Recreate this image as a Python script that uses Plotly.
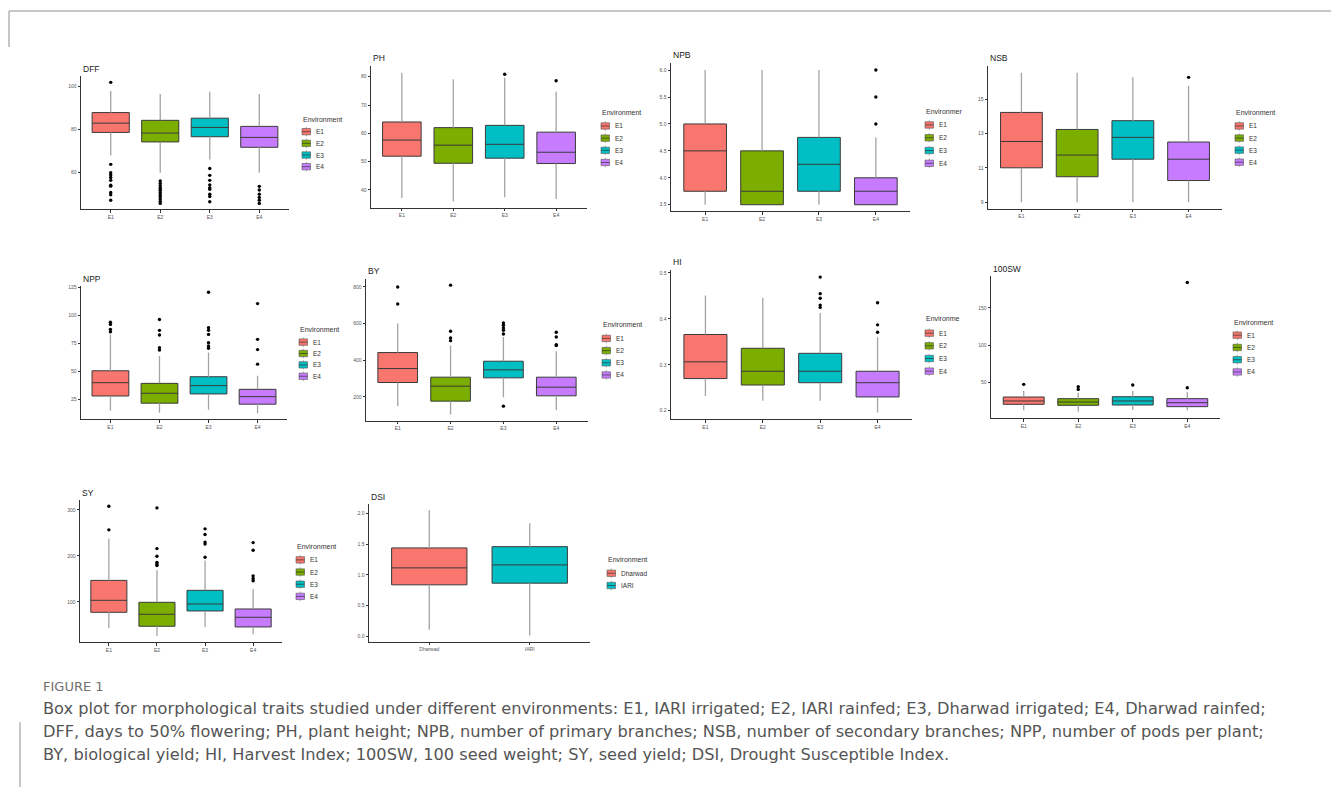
import plotly.graph_objects as go

W, H = 1331, 787

ENV = ["E1", "E2", "E3", "E4"]
SITES = ["Dharwad", "IARI"]
ENV_COLORS = ["#F8766D", "#7CAE00", "#00BFC4", "#C77CFF"]
SITE_COLORS = ["#F8766D", "#00BFC4"]

# ---------------- data ----------------
DFF_q1 = [78.5, 74.1, 76.5, 71.6]
DFF_median = [82.8, 78.2, 80.8, 76.2]
DFF_q3 = [87.7, 84.1, 85.1, 81.3]
DFF_low = [67.8, 59.8, 66.0, 59.8]
DFF_high = [97.7, 96.3, 97.4, 96.3]
DFF_outliers = [
    [101.7, 63.7, 59.8, 58.8, 57.6, 56.3, 54.0, 53.6, 50.7, 49.6, 47.1],
    [56.0, 54.8, 53.7, 52.6, 51.7, 50.7, 49.6, 48.7, 47.6, 46.5, 45.6],
    [61.8, 58.6, 56.3, 54.2, 52.9, 52.2, 49.9, 48.8, 46.4],
    [53.5, 51.8, 49.9, 48.4, 47.1, 45.6],
]
DFF_ticks = [60, 80, 100]

PH_q1 = [51.9, 49.4, 51.2, 49.3]
PH_median = [57.6, 55.8, 56.1, 53.3]
PH_q3 = [64.0, 62.0, 62.8, 60.4]
PH_low = [37.1, 35.9, 37.4, 36.8]
PH_high = [81.4, 79.1, 79.6, 74.7]
PH_outliers = [[], [], [80.9], [78.6]]
PH_ticks = [40, 50, 60, 70, 80]

NPB_q1 = [3.75, 3.5, 3.75, 3.5]
NPB_median = [4.5, 3.75, 4.25, 3.75]
NPB_q3 = [5.0, 4.5, 4.75, 4.0]
NPB_low = [3.5, 3.5, 3.5, 3.5]
NPB_high = [6.0, 6.0, 6.0, 4.75]
NPB_outliers = [[], [], [], [5.0, 5.5, 6.0]]
NPB_ticks = [3.5, 4.0, 4.5, 5.0, 5.5, 6.0]

NSB_q1 = [11.0, 10.48, 11.5, 10.26]
NSB_median = [12.53, 11.74, 12.77, 11.5]
NSB_q3 = [14.22, 13.23, 13.74, 12.5]
NSB_low = [9.0, 9.0, 9.0, 9.0]
NSB_high = [16.53, 16.53, 16.26, 15.77]
NSB_outliers = [[], [], [], [16.26]]
NSB_ticks = [9, 11, 13, 15]

NPP_q1 = [28.2, 21.8, 30.0, 20.9]
NPP_median = [40.0, 30.6, 37.4, 27.6]
NPP_q3 = [50.6, 39.4, 45.3, 34.1]
NPP_low = [15.3, 13.2, 15.9, 12.9]
NPP_high = [82.9, 63.8, 66.8, 46.2]
NPP_outliers = [
    [93.8, 91.8, 87.4, 85.3],
    [96.2, 86.5, 82.4, 71.2, 69.1],
    [120.3, 88.8, 86.5, 82.9, 75.6, 72.6, 70.6],
    [110.3, 78.5, 69.4, 56.5],
]
NPP_ticks = [25, 50, 75, 100, 125]

BY_q1 = [278.2, 176.4, 303.6, 205.5]
BY_median = [354.5, 258.2, 347.3, 252.7]
BY_q3 = [441.8, 307.3, 394.5, 307.3]
BY_low = [149, 103.6, 198, 127]
BY_high = [600, 480, 527, 449]
BY_outliers = [
    [800, 707],
    [810, 558, 522, 507],
    [603.6, 590.9, 576, 563.6, 543.6, 149],
    [553, 527, 485, 480],
]
BY_ticks = [200, 400, 600, 800]

HI_q1 = [0.270, 0.256, 0.261, 0.230]
HI_median = [0.3065, 0.286, 0.286, 0.261]
HI_q3 = [0.366, 0.336, 0.325, 0.286]
HI_low = [0.232, 0.222, 0.222, 0.196]
HI_high = [0.451, 0.446, 0.413, 0.360]
HI_outliers = [[], [], [0.491, 0.455, 0.445, 0.430, 0.425], [0.435, 0.387, 0.371]]
HI_ticks = [0.2, 0.3, 0.4, 0.5]

SW_q1 = [21.1, 19.8, 20.2, 18.0]
SW_median = [25.6, 24.2, 25.6, 23.3]
SW_q3 = [30.9, 28.7, 31.3, 28.7]
SW_low = [13.1, 11.3, 13.6, 13.1]
SW_high = [38.9, 36.7, 38.9, 38.0]
SW_outliers = [[47.8], [44.7, 41.1], [46.9], [43.3, 184.0]]
SW_ticks = [50, 100, 150]

SY_q1 = [77.6, 47.3, 80.5, 45.8]
SY_median = [103.6, 73.3, 95.7, 66.8]
SY_q3 = [146.9, 99.3, 125.3, 84.8]
SY_low = [43.7, 26.4, 45.8, 30.0]
SY_high = [237.5, 169.0, 190.0, 128.0]
SY_outliers = [
    [307.9, 256.6],
    [304.3, 215.9, 199.3, 186.0, 182.0, 179.0],
    [258.8, 246.6, 230.0, 226.0, 197.0],
    [228.9, 212.3, 156.7, 151.0, 146.0],
]
SY_ticks = [100, 200, 300]

DSI_q1 = [0.838, 0.865]
DSI_median = [1.114, 1.162]
DSI_q3 = [1.438, 1.459]
DSI_low = [0.108, 0.016]
DSI_high = [2.05, 1.84]
DSI_outliers = [[], []]
DSI_ticks = [0.0, 0.5, 1.0, 1.5, 2.0]

# ---------------- layout of the panels (pixels) ----------------
panels = [
    dict(title="DFF", cats=ENV, colors=ENV_COLORS, q1=DFF_q1, med=DFF_median, q3=DFF_q3,
         lo=DFF_low, hi=DFF_high, out=DFF_outliers, ticks=DFF_ticks, fmt="{:g}",
         xd=(81, 289), yd=(74.5, 208), tpos=(81, 66.7), leg=(302, 118, 130, 11.7), lt="Environment"),
    dict(title="PH", cats=ENV, colors=ENV_COLORS, q1=PH_q1, med=PH_median, q3=PH_q3,
         lo=PH_low, hi=PH_high, out=PH_outliers, ticks=PH_ticks, fmt="{:g}",
         xd=(371, 587), yd=(64.5, 206.4), tpos=(371, 56), leg=(601, 110.7, 124.3, 12.2), lt="Environment"),
    dict(title="NPB", cats=ENV, colors=ENV_COLORS, q1=NPB_q1, med=NPB_median, q3=NPB_q3,
         lo=NPB_low, hi=NPB_high, out=NPB_outliers, ticks=NPB_ticks, fmt="{:.1f}",
         xd=(671, 910), yd=(61.5, 210), tpos=(671, 53.3), leg=(925, 109.3, 123.3, 12.8), lt="Environmer"),
    dict(title="NSB", cats=ENV, colors=ENV_COLORS, q1=NSB_q1, med=NSB_median, q3=NSB_q3,
         lo=NSB_low, hi=NSB_high, out=NSB_outliers, ticks=NSB_ticks, fmt="{:g}",
         xd=(988, 1222), yd=(64.4, 207.2), tpos=(988, 56), leg=(1235, 110.7, 124.3, 12.1), lt="Environment"),
    dict(title="NPP", cats=ENV, colors=ENV_COLORS, q1=NPP_q1, med=NPP_median, q3=NPP_q3,
         lo=NPP_low, hi=NPP_high, out=NPP_outliers, ticks=NPP_ticks, fmt="{:g}",
         xd=(81, 287), yd=(285, 418.3), tpos=(81, 277.3), leg=(299, 328.3, 341, 11.4), lt="Environment"),
    dict(title="BY", cats=ENV, colors=ENV_COLORS, q1=BY_q1, med=BY_median, q3=BY_q3,
         lo=BY_low, hi=BY_high, out=BY_outliers, ticks=BY_ticks, fmt="{:g}",
         xd=(366, 588), yd=(277.4, 420), tpos=(366, 270), leg=(602, 323.3, 337.3, 12.2), lt="Environment"),
    dict(title="HI", cats=ENV, colors=ENV_COLORS, q1=HI_q1, med=HI_median, q3=HI_q3,
         lo=HI_low, hi=HI_high, out=HI_outliers, ticks=HI_ticks, fmt="{:.1f}",
         xd=(671, 912), yd=(269, 418.4), tpos=(671, 260.7), leg=(925, 317.7, 332, 12.7), lt="Environme"),
    dict(title="100SW", cats=ENV, colors=ENV_COLORS, q1=SW_q1, med=SW_median, q3=SW_q3,
         lo=SW_low, hi=SW_high, out=SW_outliers, ticks=SW_ticks, fmt="{:g}",
         xd=(991, 1220), yd=(274.7, 417.2), tpos=(991, 267.3), leg=(1233, 321, 334, 12.3), lt="Environment"),
    dict(title="SY", cats=ENV, colors=ENV_COLORS, q1=SY_q1, med=SY_median, q3=SY_q3,
         lo=SY_low, hi=SY_high, out=SY_outliers, ticks=SY_ticks, fmt="{:g}",
         xd=(80, 282), yd=(499, 642), tpos=(80, 492), leg=(296, 545.7, 559.3, 12.2), lt="Environment"),
    dict(title="DSI", cats=SITES, colors=SITE_COLORS, q1=DSI_q1, med=DSI_median, q3=DSI_q3,
         lo=DSI_low, hi=DSI_high, out=DSI_outliers, ticks=DSI_ticks, fmt="{:.1f}",
         xd=(369, 590), yd=(503.3, 641.3), tpos=(369, 496), leg=(607, 559.3, 572.7, 12.3), lt="Environment"),
]

FONT = "Liberation Sans"
AXC = "#333333"


def px(x):
    return x / W


def py(y):
    return 1 - y / H


fig = go.Figure()
layout_axes = {}
annotations = []
shapes = []

for i, p in enumerate(panels):
    n = i + 1
    xa = "x" if n == 1 else f"x{n}"
    ya = "y" if n == 1 else f"y{n}"
    for j, cat in enumerate(p["cats"]):
        fig.add_trace(go.Scatter(
            x=[cat, cat, None, cat, cat],
            y=[p["lo"][j], p["q1"][j], None, p["q3"][j], p["hi"][j]],
            mode="lines", line=dict(color="#a3a3a3", width=1.3),
            xaxis=xa, yaxis=ya, showlegend=False, hoverinfo="skip"))
        fig.add_trace(go.Box(
            x=[cat], q1=[p["q1"][j]], median=[p["med"][j]], q3=[p["q3"][j]],
            lowerfence=[p["q1"][j]], upperfence=[p["q3"][j]],
            width=0.75, whiskerwidth=0, boxpoints=False,
            fillcolor=p["colors"][j], line=dict(color="#3a3a3a", width=1),
            xaxis=xa, yaxis=ya, showlegend=False, name=cat))
        if p["out"][j]:
            fig.add_trace(go.Scatter(
                x=[cat] * len(p["out"][j]), y=p["out"][j], mode="markers",
                marker=dict(color="black", size=3.4),
                xaxis=xa, yaxis=ya, showlegend=False))

    allv = p["lo"] + p["hi"] + [v for o in p["out"] for v in o]
    vmin, vmax = min(allv), max(allv)
    pad = 0.05 * (vmax - vmin)
    ncat = len(p["cats"])
    common = dict(showline=True, linecolor=AXC, linewidth=1, ticks="outside",
                  ticklen=2.5, tickwidth=1, tickcolor=AXC,
                  tickfont=dict(family=FONT, size=5, color="#555555"),
                  showgrid=False, zeroline=False, fixedrange=True)
    layout_axes["xaxis" if n == 1 else f"xaxis{n}"] = dict(
        domain=[px(p["xd"][0]), px(p["xd"][1])], anchor=ya, type="category",
        categoryorder="array", categoryarray=p["cats"],
        range=[-0.6, ncat - 0.4], **common)
    layout_axes["yaxis" if n == 1 else f"yaxis{n}"] = dict(
        domain=[py(p["yd"][1]), py(p["yd"][0])], anchor=xa,
        range=[vmin - pad, vmax + pad], tickmode="array",
        tickvals=p["ticks"], ticktext=[p["fmt"].format(t) for t in p["ticks"]],
        **common)

    # panel title
    annotations.append(dict(x=px(p["tpos"][0]), y=py(p["tpos"][1]), xref="paper", yref="paper",
                            text=p["title"], showarrow=False, xanchor="left", yanchor="middle",
                            font=dict(family=FONT, size=8.5, color="#1a1a1a")))
    # legend
    lx, lyt, ly0, lsp = p["leg"]
    annotations.append(dict(x=px(lx - 1), y=py(lyt), xref="paper", yref="paper",
                            text=p["lt"], showarrow=False, xanchor="left", yanchor="middle",
                            font=dict(family=FONT, size=7, color="#333333")))
    for j, cat in enumerate(p["cats"]):
        cy = ly0 + j * lsp
        kw, kh = 8.5, 3.2
        shapes.append(dict(type="line", xref="paper", yref="paper",
                           x0=px(lx + kw / 2), x1=px(lx + kw / 2), y0=py(cy - kh - 1.6), y1=py(cy + kh + 1.6),
                           line=dict(color="#999999", width=0.8)))
        shapes.append(dict(type="rect", xref="paper", yref="paper",
                           x0=px(lx), x1=px(lx + kw), y0=py(cy + kh), y1=py(cy - kh),
                           fillcolor=p["colors"][j], line=dict(color="#555555", width=0.6)))
        shapes.append(dict(type="line", xref="paper", yref="paper",
                           x0=px(lx), x1=px(lx + kw), y0=py(cy), y1=py(cy),
                           line=dict(color="#333333", width=0.7)))
        annotations.append(dict(x=px(lx + 11.5), y=py(cy), xref="paper", yref="paper",
                                text=cat, showarrow=False, xanchor="left", yanchor="middle",
                                font=dict(family=FONT, size=6.5, color="#333333")))

# frame lines
shapes.append(dict(type="line", xref="paper", yref="paper", x0=px(9), x1=1, y0=py(9), y1=py(9),
                   line=dict(color="#b5b5b5", width=1.5)))
shapes.append(dict(type="line", xref="paper", yref="paper", x0=px(9), x1=px(9), y0=py(9), y1=py(45),
                   line=dict(color="#b5b5b5", width=1.5)))
shapes.append(dict(type="line", xref="paper", yref="paper", x0=px(20), x1=px(20), y0=py(722), y1=0,
                   line=dict(color="#b5b5b5", width=1.5)))

# caption
CAPTION_HEAD = "FIGURE 1"
CAPTION_LINES = [
    "Box plot for morphological traits studied under different environments: E1, IARI irrigated; E2, IARI rainfed; E3, Dharwad irrigated; E4, Dharwad rainfed;",
    "DFF, days to 50% flowering; PH, plant height; NPB, number of primary branches; NSB, number of secondary branches; NPP, number of pods per plant;",
    "BY, biological yield; HI, Harvest Index; 100SW, 100 seed weight; SY, seed yield; DSI, Drought Susceptible Index.",
]
annotations.append(dict(x=px(41), y=py(686), xref="paper", yref="paper", text=CAPTION_HEAD,
                        showarrow=False, xanchor="left", yanchor="middle",
                        font=dict(family="DejaVu Sans", size=13, color="#707070")))
for k, line in enumerate(CAPTION_LINES):
    annotations.append(dict(x=px(41), y=py(708 + 23 * k), xref="paper", yref="paper", text=line,
                            showarrow=False, xanchor="left", yanchor="middle",
                            font=dict(family="DejaVu Sans", size=16.2, color="#555555")))

fig.update_layout(
    width=W, height=H, margin=dict(l=0, r=0, t=0, b=0),
    paper_bgcolor="white", plot_bgcolor="white",
    showlegend=False, annotations=annotations, shapes=shapes,
    **layout_axes)

fig.write_html("out.html", config={"displayModeBar": False})
